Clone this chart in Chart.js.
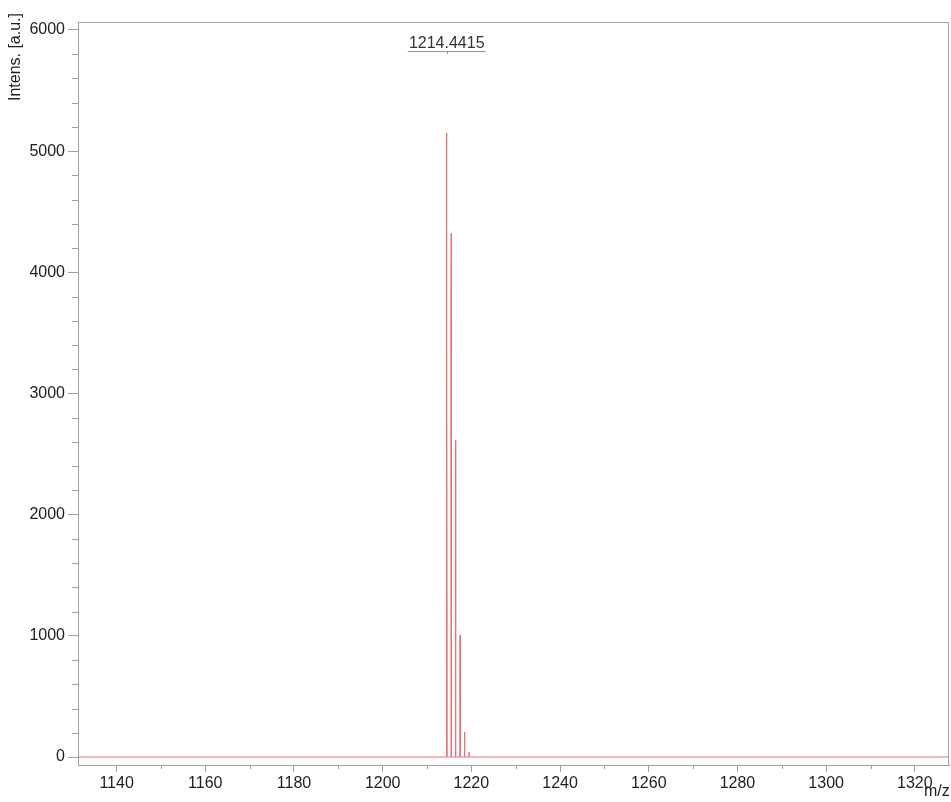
<!DOCTYPE html>
<html>
<head>
<meta charset="utf-8">
<script src="https://cdn.jsdelivr.net/npm/chart.js@4.4.1/dist/chart.umd.min.js"></script>
<style>
  html, body { margin: 0; padding: 0; background: #fff; }
  #wrap { width: 951px; height: 802px; position: relative; }
</style>
</head>
<body>
<div id="wrap"><canvas id="spectrum"></canvas></div>
<script>
// axis ranges and ticks
const mzMin = 1131.3;
const mzMax = 1327.7;
const mzTicks = [1140, 1160, 1180, 1200, 1220, 1240, 1260, 1280, 1300, 1320];
const mzMinorTicks = [1150, 1170, 1190, 1210, 1230, 1250, 1270, 1290, 1310];
const intensMin = -66;
const intensMax = 6066;
const intensTicks = [0, 1000, 2000, 3000, 4000, 5000, 6000];
const intensMinorTicks = [200, 400, 600, 800, 1200, 1400, 1600, 1800, 2200, 2400, 2600, 2800,
  3200, 3400, 3600, 3800, 4200, 4400, 4600, 4800, 5200, 5400, 5600, 5800];

// profile of the isotope cluster
const mz = [1131.3,
  1214.30, 1214.37, 1214.41, 1214.45, 1214.49, 1214.56,
  1215.33, 1215.40, 1215.45, 1215.52,
  1216.35, 1216.41, 1216.46, 1216.53,
  1217.37, 1217.42, 1217.46, 1217.53,
  1218.38, 1218.43, 1218.47, 1218.54,
  1219.40, 1219.46, 1219.52,
  1327.7];
const intensity = [0,
  0, 1340, 5020, 5150, 3400, 0,
  0, 3580, 4320, 0,
  0, 2200, 2615, 0,
  0, 578, 1007, 0,
  0, 124, 206, 0,
  0, 40, 0,
  0];

const peakLabel = '1214.4415';
const peakLabelMz = 1214.4415;

const axisColor = '#a0a0a0';
const textColor = '#1e1e1e';
const fontFamily = '"Liberation Sans", Arial, sans-serif';

const decor = {
  id: 'decor',
  afterDraw(chart) {
    const {ctx, chartArea: a, scales: {x, y}} = chart;
    ctx.save();
    ctx.strokeStyle = axisColor;
    ctx.lineWidth = 1;
    // top and right frame
    ctx.beginPath();
    ctx.moveTo(a.left, a.top + 0.5);
    ctx.lineTo(a.right - 0.5, a.top + 0.5);
    ctx.lineTo(a.right - 0.5, a.bottom);
    ctx.stroke();
    // minor ticks
    ctx.beginPath();
    mzMinorTicks.forEach(v => {
      const px = Math.round(x.getPixelForValue(v)) + 0.5;
      ctx.moveTo(px, a.bottom);
      ctx.lineTo(px, a.bottom + 4);
    });
    intensMinorTicks.forEach(v => {
      const py = Math.round(y.getPixelForValue(v)) + 0.5;
      ctx.moveTo(a.left - 6, py);
      ctx.lineTo(a.left, py);
    });
    ctx.stroke();

    // peak annotation
    const px = x.getPixelForValue(peakLabelMz);
    ctx.font = '16px ' + fontFamily;
    ctx.fillStyle = '#333';
    ctx.textAlign = 'center';
    ctx.textBaseline = 'alphabetic';
    ctx.fillText(peakLabel, px, 48);
    ctx.strokeStyle = '#999';
    ctx.beginPath();
    ctx.moveTo(px - 39, 51.5);
    ctx.lineTo(px + 39, 51.5);
    ctx.moveTo(Math.round(px) + 0.5, 51.5);
    ctx.lineTo(Math.round(px) + 0.5, 54);
    ctx.stroke();

    // axis titles
    ctx.fillStyle = textColor;
    ctx.textAlign = 'left';
    ctx.fillText('m/z', 924, 796);
    ctx.translate(15.5, 13);
    ctx.rotate(-Math.PI / 2);
    ctx.textAlign = 'right';
    ctx.textBaseline = 'middle';
    ctx.fillText('Intens. [a.u.]', 0, 0);
    ctx.restore();
  }
};

new Chart(document.getElementById('spectrum'), {
  type: 'line',
  data: {
    datasets: [{
      data: mz.map((m, i) => ({x: m, y: intensity[i]})),
      borderColor: 'rgb(232, 112, 112)',
      borderWidth: 1,
      pointRadius: 0,
      tension: 0,
      fill: false
    }]
  },
  options: {
    responsive: true,
    maintainAspectRatio: false,
    animation: false,
    layout: { padding: { left: 0, right: 2, top: 22, bottom: 0 } },
    plugins: { legend: { display: false }, tooltip: { enabled: false } },
    scales: {
      x: {
        type: 'linear',
        min: mzMin,
        max: mzMax,
        afterBuildTicks: s => { s.ticks = mzTicks.map(v => ({value: v})); },
        afterFit: s => { s.height = 37; },
        grid: { drawOnChartArea: false, tickLength: 7, color: axisColor },
        border: { color: axisColor },
        ticks: { color: textColor, padding: 2, maxRotation: 0, autoSkip: false,
                 callback: v => String(v),
                 font: { family: fontFamily, size: 16 } }
      },
      y: {
        type: 'linear',
        min: intensMin,
        max: intensMax,
        afterBuildTicks: s => { s.ticks = intensTicks.map(v => ({value: v})); },
        afterFit: s => { s.width = 78; },
        grid: { drawOnChartArea: false, tickLength: 10, color: axisColor },
        border: { color: axisColor },
        ticks: { color: textColor, padding: 3,
                 callback: v => String(v),
                 font: { family: fontFamily, size: 16 } }
      }
    }
  },
  plugins: [decor]
});
</script>
</body>
</html>
